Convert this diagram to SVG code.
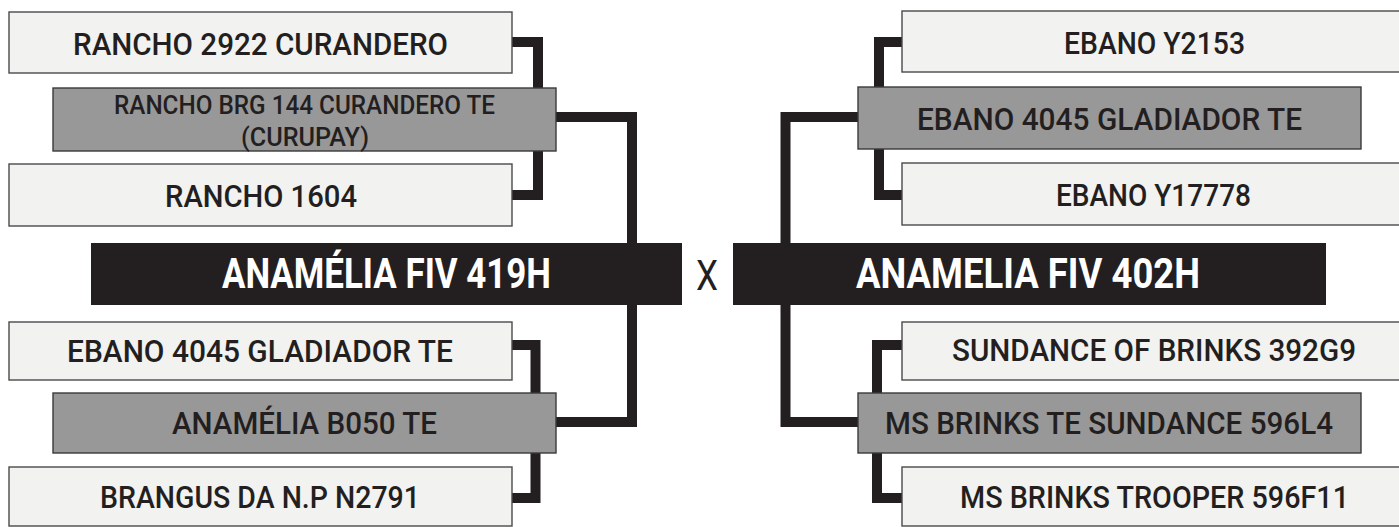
<svg xmlns="http://www.w3.org/2000/svg" width="1399" height="527" viewBox="0 0 1399 527">
<style>
.light{fill:#f2f2f0;stroke:#4a4a4a;stroke-width:1.4}
.gray{fill:#989898;stroke:#3a3a3a;stroke-width:1.4}
.main{fill:#231f20}
.t{font-family:Roboto,"Liberation Sans",Arial,sans-serif;font-weight:500;font-size:31px;fill:#231f20;text-anchor:middle}
.ts{font-size:26px}
.tm{font-family:Roboto,"Liberation Sans",Arial,sans-serif;font-size:42px;font-weight:bold;fill:#ffffff;text-anchor:middle}
.x{font-family:Roboto,"Liberation Sans",Arial,sans-serif;font-size:42px;fill:#231f20;text-anchor:middle}
.c{fill:none;stroke:#231f20;stroke-width:10;stroke-linejoin:miter}
</style>
<rect width="1399" height="527" fill="#ffffff"/>
<g id="connectors">
<path class="c" d="M512 42 H538 V195 H512"/>
<path class="c" d="M556 117 H632 V422 H556"/>
<path class="c" d="M512 345 H535.5 V498 H512"/>
<path class="c" d="M902 42 H879 V195 H902"/>
<path class="c" d="M858 117 H785.5 V422 H858"/>
<path class="c" d="M902 345 H877 V498 H902"/>
</g>
<g id="n-rancho2922"><rect class="light" x="9" y="12" width="503" height="61"/><text class="t" x="260.5" y="55" textLength="375" lengthAdjust="spacingAndGlyphs">RANCHO 2922 CURANDERO</text></g>
<g id="n-rancho144"><rect class="gray" x="53" y="88" width="503" height="63"/><text class="t ts" x="304.5" y="114" textLength="381" lengthAdjust="spacingAndGlyphs">RANCHO BRG 144 CURANDERO TE</text><text class="t ts" x="305" y="146" textLength="128" lengthAdjust="spacingAndGlyphs">(CURUPAY)</text></g>
<g id="n-rancho1604"><rect class="light" x="9" y="164" width="503" height="62"/><text class="t" x="261" y="207" textLength="192" lengthAdjust="spacingAndGlyphs">RANCHO 1604</text></g>
<g id="n-anamelia419"><rect class="main" x="91" y="243" width="591" height="62"/><text class="tm" x="386.5" y="288" textLength="329" lengthAdjust="spacingAndGlyphs">ANAMÉLIA FIV 419H</text></g>
<g id="n-ebano4045-l"><rect class="light" x="9" y="322" width="503" height="58"/><text class="t" x="260" y="362" textLength="386" lengthAdjust="spacingAndGlyphs">EBANO 4045 GLADIADOR TE</text></g>
<g id="n-anameliab050"><rect class="gray" x="53" y="393" width="503" height="60"/><text class="t" x="304.5" y="434" textLength="265" lengthAdjust="spacingAndGlyphs">ANAMÉLIA B050 TE</text></g>
<g id="n-brangus"><rect class="light" x="9" y="467" width="503" height="59"/><text class="t" x="260" y="508" textLength="320" lengthAdjust="spacingAndGlyphs">BRANGUS DA N.P N2791</text></g>
<g id="x-label"><text class="x" x="707" y="290" textLength="22" lengthAdjust="spacingAndGlyphs">X</text></g>
<g id="n-ebanoy2153"><rect class="light" x="902" y="11" width="499" height="61"/><text class="t" x="1154.5" y="54" textLength="181" lengthAdjust="spacingAndGlyphs">EBANO Y2153</text></g>
<g id="n-ebano4045-r"><rect class="gray" x="858" y="87" width="503" height="62"/><text class="t" x="1109.5" y="130" textLength="385" lengthAdjust="spacingAndGlyphs">EBANO 4045 GLADIADOR TE</text></g>
<g id="n-ebanoy17778"><rect class="light" x="902" y="163" width="499" height="62"/><text class="t" x="1153.5" y="206" textLength="195" lengthAdjust="spacingAndGlyphs">EBANO Y17778</text></g>
<g id="n-anamelia402"><rect class="main" x="733" y="243" width="593" height="62"/><text class="tm" x="1028" y="288" textLength="344" lengthAdjust="spacingAndGlyphs">ANAMELIA FIV 402H</text></g>
<g id="n-sundance392"><rect class="light" x="902" y="322" width="499" height="58"/><text class="t" x="1154" y="361" textLength="404" lengthAdjust="spacingAndGlyphs">SUNDANCE OF BRINKS 392G9</text></g>
<g id="n-msbrinks596l4"><rect class="gray" x="858" y="393" width="503" height="60"/><text class="t" x="1109" y="434" textLength="448" lengthAdjust="spacingAndGlyphs">MS BRINKS TE SUNDANCE 596L4</text></g>
<g id="n-msbrinks596f11"><rect class="light" x="902" y="467" width="499" height="59"/><text class="t" x="1154.5" y="508" textLength="389" lengthAdjust="spacingAndGlyphs">MS BRINKS TROOPER 596F11</text></g>
</svg>
